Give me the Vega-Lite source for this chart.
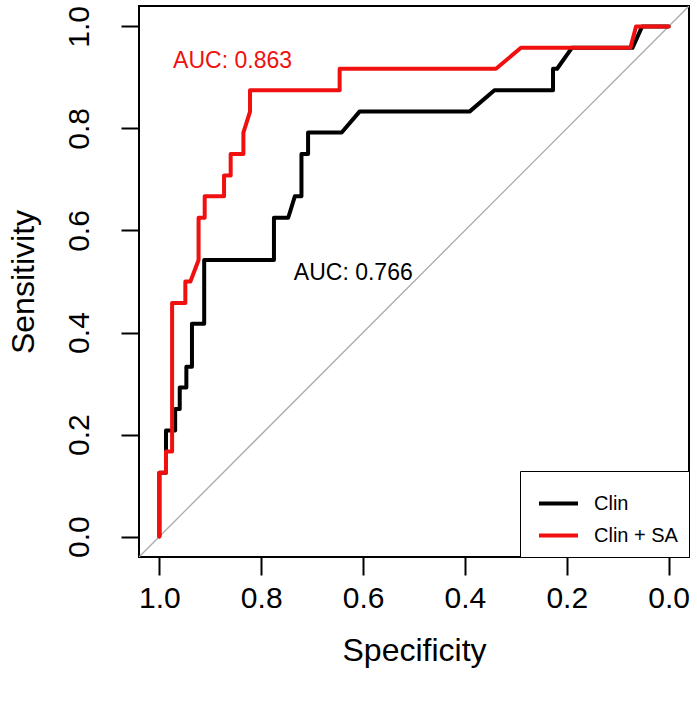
{
  "$schema": "https://vega.github.io/schema/vega-lite/v6.json",
  "autosize": {"type": "none"},
  "padding": {"left": 139, "top": 6, "right": 8, "bottom": 145},
  "width": 550,
  "height": 551,
  "background": "white",
  "datasets": {
    "roc": [
      {"series": "Clin", "i": 1, "spec": 1.0, "sens": 0.0},
      {"series": "Clin", "i": 2, "spec": 1.0, "sens": 0.125},
      {"series": "Clin", "i": 3, "spec": 0.987, "sens": 0.125},
      {"series": "Clin", "i": 4, "spec": 0.987, "sens": 0.208},
      {"series": "Clin", "i": 5, "spec": 0.969, "sens": 0.208},
      {"series": "Clin", "i": 6, "spec": 0.969, "sens": 0.25},
      {"series": "Clin", "i": 7, "spec": 0.96, "sens": 0.25},
      {"series": "Clin", "i": 8, "spec": 0.96, "sens": 0.292},
      {"series": "Clin", "i": 9, "spec": 0.947, "sens": 0.292},
      {"series": "Clin", "i": 10, "spec": 0.947, "sens": 0.333},
      {"series": "Clin", "i": 11, "spec": 0.936, "sens": 0.333},
      {"series": "Clin", "i": 12, "spec": 0.936, "sens": 0.417},
      {"series": "Clin", "i": 13, "spec": 0.912, "sens": 0.417},
      {"series": "Clin", "i": 14, "spec": 0.912, "sens": 0.542},
      {"series": "Clin", "i": 15, "spec": 0.775, "sens": 0.542},
      {"series": "Clin", "i": 16, "spec": 0.775, "sens": 0.625},
      {"series": "Clin", "i": 17, "spec": 0.747, "sens": 0.625},
      {"series": "Clin", "i": 18, "spec": 0.734, "sens": 0.667},
      {"series": "Clin", "i": 19, "spec": 0.721, "sens": 0.667},
      {"series": "Clin", "i": 20, "spec": 0.721, "sens": 0.75},
      {"series": "Clin", "i": 21, "spec": 0.708, "sens": 0.75},
      {"series": "Clin", "i": 22, "spec": 0.708, "sens": 0.792},
      {"series": "Clin", "i": 23, "spec": 0.642, "sens": 0.792},
      {"series": "Clin", "i": 24, "spec": 0.607, "sens": 0.833},
      {"series": "Clin", "i": 25, "spec": 0.391, "sens": 0.833},
      {"series": "Clin", "i": 26, "spec": 0.342, "sens": 0.875},
      {"series": "Clin", "i": 27, "spec": 0.227, "sens": 0.875},
      {"series": "Clin", "i": 28, "spec": 0.227, "sens": 0.917},
      {"series": "Clin", "i": 29, "spec": 0.219, "sens": 0.917},
      {"series": "Clin", "i": 30, "spec": 0.19, "sens": 0.958},
      {"series": "Clin", "i": 31, "spec": 0.071, "sens": 0.958},
      {"series": "Clin", "i": 32, "spec": 0.052, "sens": 1.0},
      {"series": "Clin", "i": 33, "spec": 0.0, "sens": 1.0},
      {"series": "Clin + SA", "i": 1, "spec": 1.0, "sens": 0.0},
      {"series": "Clin + SA", "i": 2, "spec": 1.0, "sens": 0.125},
      {"series": "Clin + SA", "i": 3, "spec": 0.987, "sens": 0.125},
      {"series": "Clin + SA", "i": 4, "spec": 0.987, "sens": 0.167},
      {"series": "Clin + SA", "i": 5, "spec": 0.975, "sens": 0.167},
      {"series": "Clin + SA", "i": 6, "spec": 0.975, "sens": 0.458},
      {"series": "Clin + SA", "i": 7, "spec": 0.949, "sens": 0.458},
      {"series": "Clin + SA", "i": 8, "spec": 0.949, "sens": 0.5},
      {"series": "Clin + SA", "i": 9, "spec": 0.939, "sens": 0.5},
      {"series": "Clin + SA", "i": 10, "spec": 0.923, "sens": 0.542},
      {"series": "Clin + SA", "i": 11, "spec": 0.923, "sens": 0.625},
      {"series": "Clin + SA", "i": 12, "spec": 0.911, "sens": 0.625},
      {"series": "Clin + SA", "i": 13, "spec": 0.911, "sens": 0.667},
      {"series": "Clin + SA", "i": 14, "spec": 0.873, "sens": 0.667},
      {"series": "Clin + SA", "i": 15, "spec": 0.873, "sens": 0.708},
      {"series": "Clin + SA", "i": 16, "spec": 0.86, "sens": 0.708},
      {"series": "Clin + SA", "i": 17, "spec": 0.86, "sens": 0.75},
      {"series": "Clin + SA", "i": 18, "spec": 0.835, "sens": 0.75},
      {"series": "Clin + SA", "i": 19, "spec": 0.835, "sens": 0.792},
      {"series": "Clin + SA", "i": 20, "spec": 0.822, "sens": 0.833},
      {"series": "Clin + SA", "i": 21, "spec": 0.822, "sens": 0.875},
      {"series": "Clin + SA", "i": 22, "spec": 0.646, "sens": 0.875},
      {"series": "Clin + SA", "i": 23, "spec": 0.646, "sens": 0.917},
      {"series": "Clin + SA", "i": 24, "spec": 0.339, "sens": 0.917},
      {"series": "Clin + SA", "i": 25, "spec": 0.29, "sens": 0.958},
      {"series": "Clin + SA", "i": 26, "spec": 0.075, "sens": 0.958},
      {"series": "Clin + SA", "i": 27, "spec": 0.064, "sens": 1.0},
      {"series": "Clin + SA", "i": 28, "spec": 0.0, "sens": 1.0}
    ],
    "diag": [
      {"spec": 1.04, "sens": -0.04},
      {"spec": -0.04, "sens": 1.04}
    ],
    "auc1": [{"label": "AUC: 0.863", "spec": 0.973, "sens": 0.932}],
    "auc2": [{"label": "AUC: 0.766", "spec": 0.736, "sens": 0.517}]
  },
  "layer": [
    {
      "data": {"name": "diag"},
      "mark": {"type": "line", "color": "#aaaaaa", "strokeWidth": 1.3, "clip": true},
      "encoding": {
        "x": {"field": "spec", "type": "quantitative", "scale": {"domain": [-0.04, 1.04], "reverse": true, "nice": false, "zero": false}},
        "y": {"field": "sens", "type": "quantitative", "scale": {"domain": [-0.04, 1.04], "nice": false, "zero": false}}
      }
    },
    {
      "data": {"name": "roc"},
      "mark": {"type": "line", "strokeWidth": 4, "strokeJoin": "round", "strokeCap": "round", "clip": true},
      "encoding": {
        "x": {
          "field": "spec", "type": "quantitative",
          "scale": {"domain": [-0.04, 1.04], "reverse": true, "nice": false, "zero": false},
          "axis": {"values": [0, 0.2, 0.4, 0.6, 0.8, 1], "format": ".1f", "title": "Specificity", "labelPadding": 8, "titlePadding": 22, "labelFlush": false, "labelOverlap": false}
        },
        "y": {
          "field": "sens", "type": "quantitative",
          "scale": {"domain": [-0.04, 1.04], "nice": false, "zero": false},
          "axis": {"values": [0, 0.2, 0.4, 0.6, 0.8, 1], "format": ".1f", "title": "Sensitivity", "labelAngle": -90, "labelAlign": "center", "labelBaseline": "alphabetic", "labelPadding": 33, "titlePadding": 24, "labelFlush": false, "labelOverlap": false}
        },
        "order": {"field": "i", "type": "quantitative"},
        "color": {
          "field": "series", "type": "nominal",
          "scale": {"domain": ["Clin", "Clin + SA"], "range": ["black", "#f01010"]},
          "legend": {
            "title": null, "orient": "bottom-right", "offset": 0,
            "strokeColor": "black", "fillColor": "white", "padding": 11,
            "symbolType": "stroke", "symbolSize": 1521, "symbolStrokeWidth": 4, "symbolOffset": 6,
            "labelFont": "Liberation Sans", "labelFontSize": 20, "labelColor": "black",
            "labelOffset": 14, "rowPadding": -8
          }
        }
      }
    },
    {
      "data": {"name": "auc1"},
      "mark": {"type": "text", "align": "left", "baseline": "middle", "fontSize": 23, "font": "Liberation Sans", "color": "#f01010"},
      "encoding": {
        "x": {"field": "spec", "type": "quantitative"},
        "y": {"field": "sens", "type": "quantitative"},
        "text": {"field": "label"}
      }
    },
    {
      "data": {"name": "auc2"},
      "mark": {"type": "text", "align": "left", "baseline": "middle", "fontSize": 23, "font": "Liberation Sans", "color": "black"},
      "encoding": {
        "x": {"field": "spec", "type": "quantitative"},
        "y": {"field": "sens", "type": "quantitative"},
        "text": {"field": "label"}
      }
    }
  ],
  "config": {
    "view": {"stroke": "black", "strokeWidth": 2},
    "axis": {
      "grid": false, "domain": false,
      "tickColor": "black", "tickWidth": 2, "tickSize": 18,
      "labelFont": "Liberation Sans", "labelFontSize": 30, "labelColor": "black",
      "titleFont": "Liberation Sans", "titleFontSize": 32, "titleFontWeight": "normal", "titleColor": "black"
    }
  }
}
